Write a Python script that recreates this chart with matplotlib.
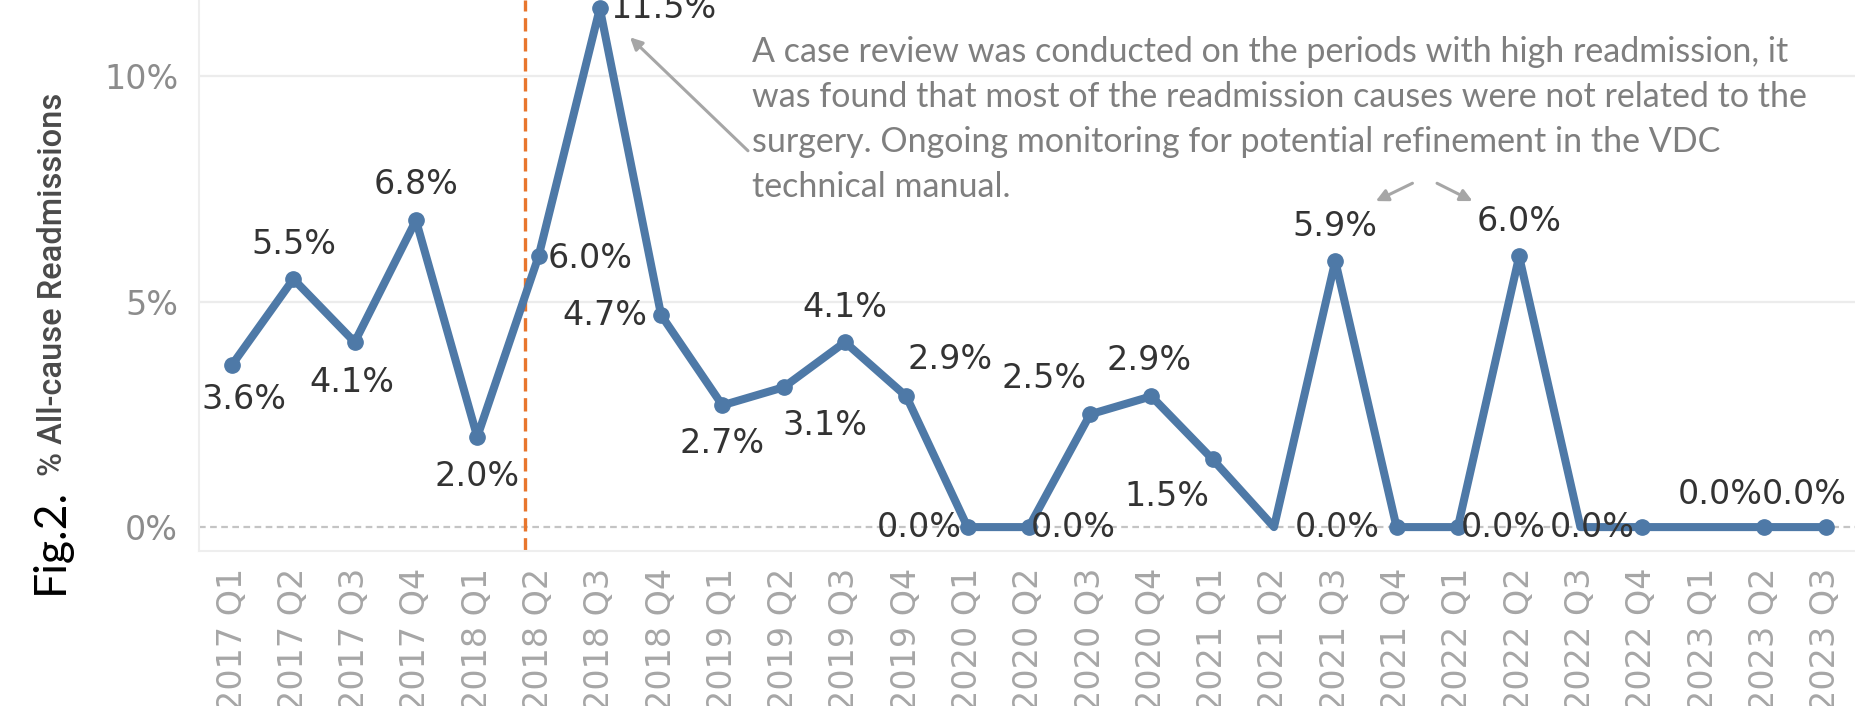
import matplotlib
matplotlib.use("Agg")
import matplotlib.pyplot as plt

quarters = ["2017 Q1", "2017 Q2", "2017 Q3", "2017 Q4", "2018 Q1", "2018 Q2", "2018 Q3",
            "2018 Q4", "2019 Q1", "2019 Q2", "2019 Q3", "2019 Q4", "2020 Q1", "2020 Q2",
            "2020 Q3", "2020 Q4", "2021 Q1", "2021 Q2", "2021 Q3", "2021 Q4", "2022 Q1",
            "2022 Q2", "2022 Q3", "2022 Q4", "2023 Q1", "2023 Q2", "2023 Q3"]
rates = [3.6, 5.5, 4.1, 6.8, 2.0, 6.0, 11.5, 4.7, 2.7, 3.1, 4.1, 2.9, 0.0, 0.0,
         2.5, 2.9, 1.5, 0.0, 5.9, 0.0, 0.0, 6.0, 0.0, 0.0, 0.0, 0.0, 0.0]
# quarters drawn without a dot / without a value label in the original
no_marker = ["2021 Q2", "2022 Q3", "2023 Q1"]
no_label = ["2021 Q2", "2022 Q4", "2023 Q1"]

note = ("A case review was conducted on the periods with high readmission, it\n"
        "was found that most of the readmission causes were not related to the\n"
        "surgery. Ongoing monitoring for potential refinement in the VDC\n"
        "technical manual.")

# label offsets in pixels (dx right, dy down) and alignment
label_pos = {
    0: (12, 35, "center"), 1: (0, -34, "center"), 2: (-3, 40, "center"),
    3: (0, -36, "center"), 4: (0, 40, "center"), 5: (9, 2, "left"),
    6: (11, 0, "left"), 7: (-14, 0, "right"), 8: (0, 38, "center"),
    9: (41, 38, "center"), 10: (0, -35, "center"), 11: (44, -37, "center"),
    12: (-6, 0, "right"), 13: (2, 0, "left"), 14: (-46, -36, "center"),
    15: (-2, -36, "center"), 16: (-46, 37, "center"), 18: (0, -34, "center"),
    19: (-17, 0, "right"), 20: (3, 0, "left"), 21: (0, -35, "center"),
    22: (12, 0, "center"), 25: (-44, -33, "center"), 26: (-21, -33, "center"),
}

blue = "#4e79a7"
orange = "#e8762d"

fig = plt.figure(figsize=(18.55, 7.06), dpi=100)
ax = fig.add_axes([199 / 1855, 155 / 706, 1 - 199 / 1855, 551 / 706])

x = list(range(len(quarters)))
ax.plot(x, rates, color=blue, lw=5.8, solid_joinstyle="round", zorder=3)
mx = [i for i, q in enumerate(quarters) if q not in no_marker]
ax.plot(mx, [rates[i] for i in mx], "o", color=blue, ms=11, zorder=4)

px = 0.72
for i, q in enumerate(quarters):
    if q in no_label or i not in label_pos:
        continue
    dx, dy, ha = label_pos[i]
    ax.annotate(f"{rates[i]:.1f}%", (i, rates[i]), xytext=(dx * px, -dy * px),
                textcoords="offset points", ha=ha, va="center",
                fontsize=24, color="#333333", zorder=5)

ax.set_xlim(-0.54, 26.48)
ax.set_ylim(-0.53, 11.685)
ax.set_xticks(x)
ax.set_xticklabels(quarters, rotation=90, fontsize=24, color="#a6a6a6")
ax.set_yticks([0, 5, 10])
ax.set_yticklabels(["0%", "5%", "10%"], fontsize=24, color="#8c8c8c")
ax.tick_params(length=0)
ax.tick_params(axis="y", pad=15)
ax.tick_params(axis="x", pad=12)
for yv in [5, 10]:
    ax.axhline(yv, color="#ececec", lw=1.6, zorder=1)
ax.axhline(0, color="#c4c4c4", lw=1.6, ls=(0, (3, 2)), zorder=1)
ax.axvline(4.78, color=orange, lw=2.4, ls=(0, (4, 2)), zorder=2)
for s in ["top", "right"]:
    ax.spines[s].set_visible(False)
for s in ["left", "bottom"]:
    ax.spines[s].set_color("#eeeeee")
    ax.spines[s].set_linewidth(1.5)

# annotation text and arrows
fig.text(752 / 1855, 1 - 36 / 706, note, ha="left", va="top", fontsize=24.5,
         color="#7f7f7f", family=["Lato", "DejaVu Sans"], linespacing=1.5)
arrow = dict(arrowstyle="-|>", color="#a6a6a6", lw=2.2, mutation_scale=18)
ax.annotate("", xy=(6.46, 10.9), xytext=(8.45, 8.3), arrowprops=arrow)
ax.annotate("", xy=(18.62, 7.2), xytext=(19.3, 7.65), arrowprops=arrow)
ax.annotate("", xy=(20.28, 7.2), xytext=(19.62, 7.65), arrowprops=arrow)

fig.text(53 / 1855, 1 - 284 / 706, "% All-cause Readmissions", rotation=90,
         ha="center", va="center", fontsize=23.5, color="#4a4a4a",
         family=["Roboto", "DejaVu Sans"], fontweight="medium")
fig.text(50 / 1855, 1 - 541 / 706, "Fig.2.", rotation=90, ha="center", va="center",
         fontsize=32, color="black", family=["Lato", "DejaVu Sans"])

fig.savefig("out.png", dpi=100)
